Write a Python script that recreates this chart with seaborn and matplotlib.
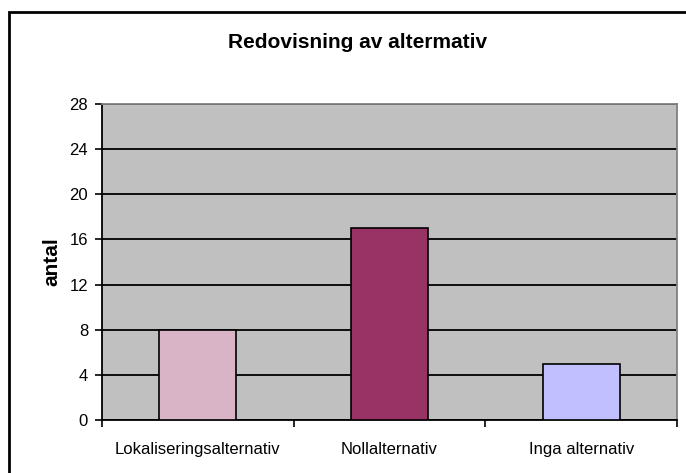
import matplotlib
matplotlib.use("Agg")
import matplotlib.pyplot as plt
import seaborn as sns
import pandas as pd
from matplotlib.patches import Rectangle
from matplotlib.ticker import FixedLocator

categories = ["Lokaliseringsalternativ", "Nollalternativ", "Inga alternativ"]
values = [8, 17, 5]
colors = ["#D9B3C6", "#993366", "#C0C0FF"]
yticks = [0, 4, 8, 12, 16, 20, 24, 28]
title = "Redovisning av altermativ"
ylabel = "antal"

sns.set_theme(style="white")
plt.rcParams['font.family'] = ['Liberation Sans', 'DejaVu Sans']

df = pd.DataFrame({"cat": categories, "val": values})

fig = plt.figure(figsize=(6.86, 4.73), dpi=100)
W, H = 686, 473
x0, x1, y0, y1 = 102, 677, 104, 420
ax = fig.add_axes([x0 / W, 1 - y1 / H, (x1 - x0) / W, (y1 - y0) / H])
ax.set_facecolor("#C0C0C0")

sns.barplot(data=df, x="cat", y="val", hue="cat", palette=colors, legend=False,
            width=0.4, saturation=1, edgecolor="black", linewidth=1.2, ax=ax, zorder=3)

ax.set_ylim(0, 28)
ax.set_xlim(-0.5, 2.5)
ax.set_yticks(yticks)
ax.yaxis.grid(True, color="black", linewidth=1.3, zorder=0)
ax.set_axisbelow(True)
ax.tick_params(axis="y", which="major", length=5, width=1.2, color="black",
               labelsize=12, pad=5, left=True, labelcolor="black")
ax.tick_params(axis="x", which="major", length=0, labelsize=12, pad=16, labelcolor="black")
ax.xaxis.set_minor_locator(FixedLocator([-0.5, 0.5, 1.5, 2.5]))
ax.tick_params(axis="x", which="minor", length=5, width=1.2, color="black", bottom=True)

for s in ["left", "bottom"]:
    ax.spines[s].set_color("black")
    ax.spines[s].set_linewidth(1.3)
for s in ["top", "right"]:
    ax.spines[s].set_color("#808080")
    ax.spines[s].set_linewidth(1.3)

ax.set_xlabel("")
ax.set_ylabel(ylabel, fontsize=15, fontweight="bold", color="black")
ax.yaxis.set_label_coords((61 - x0) / (x1 - x0), 0.5)
fig.text(357.5 / W, 1 - 48 / H, title, ha="center", va="baseline",
         fontsize=15, fontweight="bold", color="black")

fig.patches.append(Rectangle((9 / W, -0.1), 1.2, 1 - 12 / H + 0.1, transform=fig.transFigure,
                             fill=False, edgecolor="black", linewidth=2, figure=fig))

fig.savefig("out.png", dpi=100)
